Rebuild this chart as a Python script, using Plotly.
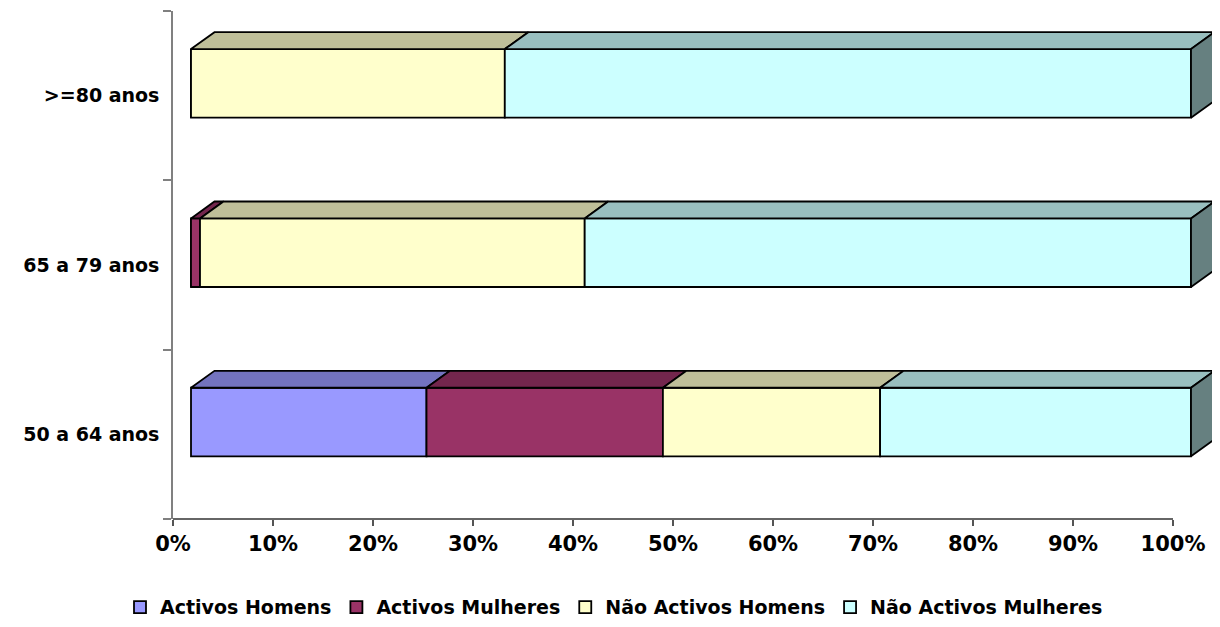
import plotly.graph_objects as go

categories = ["50 a 64 anos", "65 a 79 anos", ">=80 anos"]
series_names = ["Activos Homens", "Activos Mulheres", "Não Activos Homens", "Não Activos Mulheres"]
activos_homens = [23.55, 0.0, 0.0]
activos_mulheres = [23.64, 0.9, 0.0]
nao_activos_homens = [21.72, 38.47, 31.38]
nao_activos_mulheres = [31.09, 60.63, 68.62]
x_ticks = list(range(0, 101, 10))

front_colors = ["#9999FF", "#993366", "#FFFFCC", "#CCFFFF"]
top_colors = ["#7373BF", "#73264D", "#BFBF99", "#99BFBF"]
side_color = "#668080"

# fake 3d look, in axis units
SHIFT = 1.8      # front face sits a bit right of the wall
DX = 2.35        # depth, horizontal
DY = 0.1         # depth, vertical
BAR_LO, BAR_HI = 0.37, 0.775
XMAX = 104.4
FONT = "DejaVu Sans"
EDGE = 1.8

series = [activos_homens, activos_mulheres, nao_activos_homens, nao_activos_mulheres]

fig = go.Figure()

for k, (name, vals, col) in enumerate(zip(series_names, series, front_colors)):
	fig.add_trace(go.Bar(
		name=name,
		orientation="h",
		y=[i + (BAR_LO + BAR_HI) / 2 for i in range(len(categories))],
		x=vals,
		base=[SHIFT + sum(s[i] for s in series[:k]) for i in range(len(categories))],
		width=BAR_HI - BAR_LO,
		marker=dict(color=col, line=dict(color="black", width=EDGE)),
		hoverinfo="skip",
	))

for i in range(len(categories)):
	cum = SHIFT
	lo, hi = i + BAR_LO, i + BAR_HI
	last_end = None
	for vals, col in zip(series, top_colors):
		v = vals[i]
		if v <= 0:
			continue
		x0, x1 = cum, cum + v
		fig.add_trace(go.Scatter(
			x=[x0, x1, x1 + DX, x0 + DX, x0],
			y=[hi, hi, hi + DY, hi + DY, hi],
			mode="lines", fill="toself", fillcolor=col,
			line=dict(color="black", width=EDGE),
			showlegend=False, hoverinfo="skip",
		))
		cum = x1
		last_end = x1
	fig.add_trace(go.Scatter(
		x=[last_end, last_end + DX, last_end + DX, last_end, last_end],
		y=[lo, lo + DY, hi + DY, hi, lo],
		mode="lines", fill="toself", fillcolor=side_color,
		line=dict(color="black", width=EDGE),
		showlegend=False, hoverinfo="skip",
	))

# page body has an 8px margin, so the figure is a bit smaller than the window
fig.update_layout(
	width=1212, height=619, autosize=False,
	margin=dict(l=165, r=3, t=3, b=108),
	paper_bgcolor="white", plot_bgcolor="white",
	barmode="overlay",
	font=dict(family=FONT, color="black", weight="bold"),
	showlegend=True,
	legend=dict(
		orientation="h", xref="container", yref="container",
		x=0.5, xanchor="center", y=0.032, yanchor="middle",
		font=dict(size=19, family=FONT, weight="bold"),
		traceorder="normal",
	),
	shapes=[dict(
		type="line", xref="paper", yref="paper",
		x0=0, x1=100 / XMAX, y0=0, y1=0,
		line=dict(color="#333333", width=1.5),
	)],
)
fig.update_xaxes(
	range=[0, XMAX], tickvals=x_ticks, ticktext=[f"{t}%" for t in x_ticks],
	ticks="outside", ticklen=6, tickcolor="#555555", tickwidth=1.5,
	showgrid=False, zeroline=False, showline=False,
	tickfont=dict(size=21, family=FONT, weight="bold"),
)
fig.update_yaxes(
	range=[0, 3], tickvals=[i + 0.5 for i in range(len(categories))], ticktext=categories,
	ticks="", ticklabelstandoff=8,
	showgrid=False, zeroline=False,
	showline=True, linecolor="#808080", linewidth=1.5,
	minor=dict(ticks="outside", tick0=0, dtick=1, ticklen=8, tickcolor="#808080", tickwidth=1.5, showgrid=False),
	tickfont=dict(size=19, family=FONT, weight="bold"),
)

fig.write_html("out.html")
